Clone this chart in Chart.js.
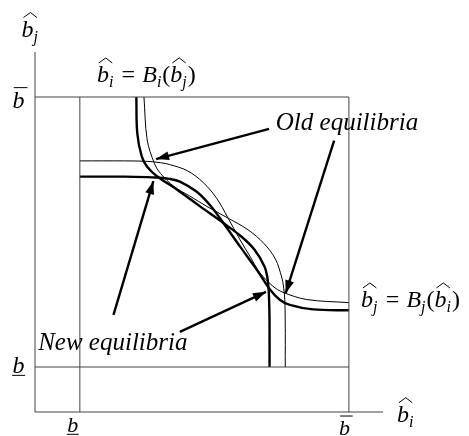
<!DOCTYPE html>
<html>
<head>
<meta charset="utf-8">
<script src="https://cdn.jsdelivr.net/npm/chart.js@4"></script>
<style>
  html, body { margin: 0; background: #fff; }
</style>
</head>
<body>
<canvas id="chart" width="469" height="436"></canvas>
<script>
// units: b_ (lower bound) = 1, b¯ (upper bound) = 7
const bLow = 1;
const bHigh = 7;
const xAxisEnd = 7.76;
const yAxisEnd = 8;

// B_j(b_i): y as a function of x
const oldBjX = [1.0, 2.0, 2.5, 2.8, 3.0, 3.4, 3.75, 4.05, 4.3, 4.57, 4.8, 5.01, 5.3, 5.53, 6.06, 7.0];
const oldBjY = [5.58, 5.58, 5.57, 5.54, 5.5, 5.36, 5.1, 4.75, 4.32, 3.83, 3.45, 3.1, 2.8, 2.66, 2.5, 2.43];
const newBjX = [1.0, 2.0, 2.5, 2.71, 3.0, 3.23, 3.6, 3.9, 4.2, 4.57, 4.94, 5.24, 5.45, 5.68, 6.2, 7.0];
const newBjY = [5.23, 5.23, 5.22, 5.21, 5.18, 5.12, 4.9, 4.6, 4.2, 3.68, 3.17, 2.72, 2.5, 2.38, 2.28, 2.26];
// B_i(b_j) is the mirror image of B_j (the figure is symmetric about the diagonal)

// arrows: [x, y] tail and head
const oldArrowFrom = [[5.22, 6.29], [6.67, 6.03]];
const oldArrowTo = [[2.70, 5.62], [5.59, 2.64]];
const newArrowFrom = [[1.75, 2.16], [3.23, 1.78]];
const newArrowTo = [[2.64, 5.13], [5.15, 2.67]];

const SERIF = '"Liberation Serif", serif';

const bHat = sub => [{ t: 'b', it: true, hat: true }, { t: sub, it: true, sub: true }];
const eqI = [...bHat('i'), { t: '=', gap: 0.3 }, { t: 'B', it: true }, { t: 'i', it: true, sub: true }, { t: '(' }, ...bHat('j'), { t: ')' }];
const eqJ = [...bHat('j'), { t: '=', gap: 0.3 }, { t: 'B', it: true }, { t: 'j', it: true, sub: true }, { t: '(' }, ...bHat('i'), { t: ')' }];

const textLabels = [
  { parts: bHat('j'), x: -0.30, y: 8.34, size: 24 },
  { parts: bHat('i'), x: 8.07, y: -0.22, size: 24 },
  { parts: eqI, x: 1.38, y: 7.33, size: 24 },
  { parts: eqJ, x: 7.27, y: 2.33, size: 24 },
  { parts: [{ t: 'b', it: true, over: true }], x: -0.50, y: 6.76, size: 24 },
  { parts: [{ t: 'b', it: true, under: true }], x: -0.50, y: 0.87, size: 24 },
  { parts: [{ t: 'b', it: true, under: true }], x: 0.72, y: -0.44, size: 22 },
  { parts: [{ t: 'b', it: true, over: true }], x: 6.78, y: -0.50, size: 22 },
  { parts: [{ t: 'Old equilibria', it: true }], x: 5.37, y: 6.27, size: 25 },
  { parts: [{ t: 'New equilibria', it: true }], x: 0.07, y: 1.38, size: 25 }
];

const pts = (xs, ys) => xs.map((x, k) => ({ x, y: ys[k] }));

function lineSet(data, width, color, tension) {
  return {
    data,
    showLine: true,
    borderColor: color,
    borderWidth: width,
    pointRadius: 0,
    tension,
    clip: false
  };
}

function arrowSet(from, to) {
  const ds = lineSet([{ x: from[0], y: from[1] }, { x: to[0], y: to[1] }], 2.4, '#000', 0);
  ds.arrow = true;
  return ds;
}

const frame = '#444';
const datasets = [
  lineSet([{ x: 0, y: 0 }, { x: 0, y: yAxisEnd }], 1, frame, 0),
  lineSet([{ x: 0, y: 0 }, { x: xAxisEnd, y: 0 }], 1, frame, 0),
  lineSet([{ x: 0, y: bHigh }, { x: bHigh, y: bHigh }], 1, frame, 0),
  lineSet([{ x: 0, y: bLow }, { x: bHigh, y: bLow }], 1, frame, 0),
  lineSet([{ x: bLow, y: 0 }, { x: bLow, y: bHigh }], 1, frame, 0),
  lineSet([{ x: bHigh, y: 0 }, { x: bHigh, y: bHigh }], 1, frame, 0),

  lineSet(pts(oldBjX, oldBjY), 1, '#000', 0.35),
  lineSet(pts(oldBjY, oldBjX), 1, '#000', 0.35),
  lineSet(pts(newBjX, newBjY), 2.4, '#000', 0.35),
  lineSet(pts(newBjY, newBjX), 2.4, '#000', 0.35),

  ...oldArrowFrom.map((f, k) => arrowSet(f, oldArrowTo[k])),
  ...newArrowFrom.map((f, k) => arrowSet(f, newArrowTo[k]))
];

function drawMath(ctx, parts, x, y, size) {
  let cx = x;
  parts.forEach(p => {
    const fs = p.sub ? Math.round(size * 0.68) : size;
    ctx.font = (p.it ? 'italic ' : '') + fs + 'px ' + SERIF;
    const w = ctx.measureText(p.t).width;
    const gap = (p.gap || 0) * size;
    cx += gap;
    ctx.fillText(p.t, cx, p.sub ? y + size * 0.22 : y);
    ctx.lineWidth = 1;
    if (p.hat) {
      const top = y - size * 0.8;
      ctx.beginPath();
      ctx.moveTo(cx + size * 0.08, top);
      ctx.lineTo(cx + w / 2 + size * 0.12, top - 5);
      ctx.lineTo(cx + w + size * 0.14, top);
      ctx.stroke();
    }
    if (p.over) {
      const top = y - size * 0.84;
      ctx.beginPath();
      ctx.moveTo(cx + size * 0.05, top);
      ctx.lineTo(cx + w + size * 0.12, top);
      ctx.stroke();
    }
    if (p.under) {
      ctx.beginPath();
      ctx.moveTo(cx - size * 0.02, y + 2.5);
      ctx.lineTo(cx + w + size * 0.02, y + 2.5);
      ctx.stroke();
    }
    cx += w + gap + (p.sub ? 1 : 0);
  });
}

const decorations = {
  id: 'decorations',
  afterDatasetsDraw(chart) {
    const ctx = chart.ctx;
    const xs = chart.scales.x;
    const ys = chart.scales.y;
    ctx.save();
    ctx.fillStyle = '#000';
    ctx.strokeStyle = '#000';

    chart.data.datasets.forEach((ds, i) => {
      if (!ds.arrow) return;
      const [a, b] = chart.getDatasetMeta(i).data;
      const ang = Math.atan2(b.y - a.y, b.x - a.x);
      const len = 13, half = 4.5;
      ctx.beginPath();
      ctx.moveTo(b.x, b.y);
      ctx.lineTo(b.x - len * Math.cos(ang) + half * Math.sin(ang), b.y - len * Math.sin(ang) - half * Math.cos(ang));
      ctx.lineTo(b.x - len * Math.cos(ang) - half * Math.sin(ang), b.y - len * Math.sin(ang) + half * Math.cos(ang));
      ctx.closePath();
      ctx.fill();
    });

    ctx.textBaseline = 'alphabetic';
    ctx.textAlign = 'left';
    textLabels.forEach(l => {
      drawMath(ctx, l.parts, xs.getPixelForValue(l.x), ys.getPixelForValue(l.y), l.size);
    });
    ctx.restore();
  }
};

new Chart(document.getElementById('chart'), {
  type: 'scatter',
  data: { datasets },
  options: {
    responsive: false,
    animation: false,
    events: [],
    layout: { padding: { left: 35, right: 86, top: 52, bottom: 24 } },
    plugins: { legend: { display: false }, tooltip: { enabled: false } },
    scales: {
      x: { type: 'linear', min: 0, max: xAxisEnd, display: false },
      y: { type: 'linear', min: 0, max: yAxisEnd, display: false }
    }
  },
  plugins: [decorations]
});
</script>
</body>
</html>
